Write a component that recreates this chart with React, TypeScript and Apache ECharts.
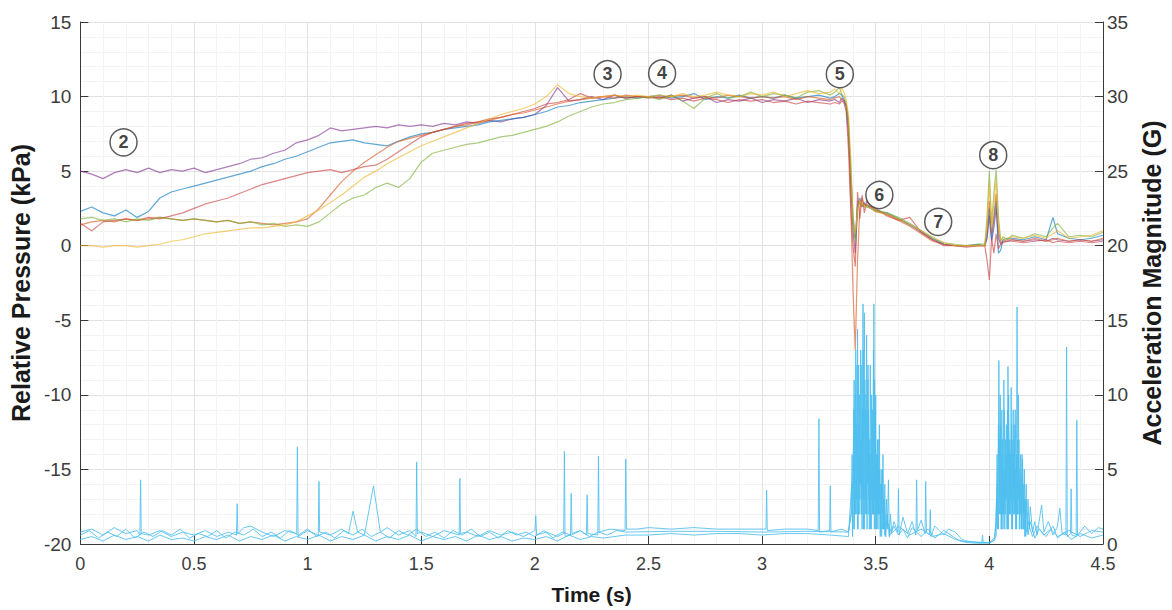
import React, { useEffect, useRef } from "react";
import * as echarts from "echarts";

// Time base shared by the pressure traces (s)
const TIME = [
  0, 0.05, 0.1, 0.15, 0.2, 0.25, 0.3, 0.35, 0.4, 0.45,
  0.5, 0.55, 0.6, 0.65, 0.7, 0.75, 0.8, 0.85, 0.9, 0.95,
  1.0, 1.05, 1.1, 1.15, 1.2, 1.25, 1.3, 1.35, 1.4, 1.45,
  1.5, 1.55, 1.6, 1.65, 1.7, 1.75, 1.8, 1.85, 1.9, 1.95,
  2.0, 2.05, 2.1, 2.15, 2.2, 2.25, 2.3, 2.35, 2.4, 2.45,
  2.5, 2.55, 2.6, 2.65, 2.7, 2.75, 2.8, 2.85, 2.9, 2.95,
  3.0, 3.05, 3.1, 3.15, 3.2, 3.25, 3.3,
  3.32, 3.34, 3.35, 3.36, 3.37, 3.38, 3.39, 3.4, 3.41, 3.42, 3.43, 3.44, 3.45, 3.46, 3.48,
  3.5, 3.55, 3.6, 3.65, 3.7, 3.75, 3.8, 3.85, 3.9, 3.95,
  3.98, 3.99, 4.0, 4.01, 4.02, 4.03, 4.04, 4.05, 4.06, 4.08,
  4.1, 4.15, 4.2, 4.25, 4.28, 4.3, 4.35, 4.4, 4.45, 4.5,
];

// Relative pressure traces (kPa)
const P_PURPLE = [
  5.0, 4.8, 4.5, 4.9, 5.1, 4.9, 5.2, 4.9, 5.1, 5.0,
  5.2, 4.9, 5.1, 5.3, 5.5, 5.8, 5.9, 6.2, 6.4, 6.9,
  7.1, 7.4, 7.9, 7.7, 7.8, 7.9, 8.0, 7.9, 8.1, 8.0,
  8.1, 8.0, 8.2, 8.1, 8.3, 8.2, 8.4, 8.3, 8.5, 8.6,
  8.8, 9.4, 10.6, 9.7, 9.8, 10.0, 9.8, 10.1, 9.9, 10.0,
  10.0, 9.9, 10.1, 9.7, 9.9, 10.0, 9.6, 9.8, 9.7, 9.9,
  9.6, 9.8, 9.7, 9.9, 9.6, 9.8, 9.7,
  9.8, 9.6, 9.9, 9.7, 9.3, 7.5, 4.0, 1.0, -0.5, 2.5, 3.0, 2.6, 2.8, 2.7, 2.6,
  2.4, 2.1, 1.8, 1.4, 0.9, 0.4, 0.1, 0.0, 0.0, 0.0,
  0.0, 0.5, 2.0, 0.3, 1.2, 2.5, 0.5, 0.1, 0.3, 0.3,
  0.4, 0.3, 0.4, 0.3, 0.5, 0.4, 0.3, 0.4, 0.3, 0.4,
];
const P_BLUE = [
  2.3, 2.6, 2.2, 2.0, 2.4, 1.9, 2.3, 3.2, 3.6, 3.8,
  4.0, 4.2, 4.4, 4.6, 4.8, 5.0, 5.3, 5.5, 5.8, 6.0,
  6.3, 6.6, 6.9, 7.0, 7.1, 6.9, 6.8, 6.7, 7.0, 7.3,
  7.5, 7.6, 7.8, 7.9, 8.0, 8.1, 8.3, 8.4, 8.5, 8.6,
  8.8, 9.0, 9.3, 9.4, 9.6, 9.7, 9.8, 9.9, 10.0, 9.9,
  10.0, 10.1, 9.9, 10.0, 10.2, 9.8, 10.0, 9.9, 10.1, 9.9,
  10.0, 9.9, 10.1, 9.9, 10.0, 10.1, 9.9,
  10.0, 10.2, 10.1, 9.8, 9.4, 8.0, 5.0, 2.0, 0.5, 2.8, 3.2, 2.7, 2.9, 2.6, 2.5,
  2.3, 2.2, 1.8, 1.4, 1.0, 0.5, 0.1, 0.0, 0.0, 0.1,
  0.0, 0.6, 2.5, 0.4, 1.8, 3.0, -0.5, -0.3, 0.4, 0.5,
  0.5, 0.4, 0.6, 0.4, 1.9, 0.8, 0.5, 0.4, 0.5, 0.7,
];
const P_RED = [
  1.5, 1.0, 1.6, 1.7, 1.8, 1.7, 1.9, 1.8, 2.0, 2.2,
  2.5, 2.8, 3.0, 3.2, 3.5, 3.8, 4.1, 4.3, 4.5, 4.7,
  4.9, 5.0, 5.1, 4.9, 5.1, 5.3, 5.4, 5.8, 6.3, 6.8,
  7.3, 7.6, 7.8, 8.0, 8.2, 8.3, 8.5, 8.6, 8.8, 9.0,
  9.2, 9.5, 9.6, 9.8, 10.2, 9.9, 10.0, 10.1, 9.9, 10.0,
  9.9, 10.0, 9.8, 9.9, 9.7, 9.9, 9.8, 9.6, 9.8, 9.7,
  9.8, 9.6, 9.7, 9.5, 9.7, 9.6, 9.5,
  9.6, 9.5, 9.7, 9.6, 9.0, 6.5, 2.5, 0.0, -1.4, 3.6, 1.8, 3.4, 2.2, 3.0, 2.6,
  2.5, 2.0, 1.7, 1.9, 0.9, 0.4, 0.0, 0.0, -0.1, 0.0,
  0.0, -1.0, -2.3, 0.5, -0.5, 0.8, -0.2, 0.1, 0.2, 0.3,
  0.3, 0.2, 0.3, 0.4, 0.2, 0.3, 0.2, 0.3, 0.2, 0.3,
];
const P_ORANGE = [
  1.4, 1.6, 1.7, 1.6, 1.8, 1.7, 1.8, 1.9, 1.8, 1.7,
  1.8, 1.7, 1.6, 1.7, 1.5, 1.6, 1.5, 1.4, 1.5, 1.6,
  1.8, 2.5, 3.4, 4.3, 5.0, 5.6, 6.1, 6.6, 7.0, 7.2,
  7.4, 7.6, 7.8, 8.0, 8.1, 8.3, 8.4, 8.6, 8.8, 8.9,
  9.1, 9.3, 9.5, 9.7, 9.8, 9.9, 10.0, 9.9, 10.1, 10.0,
  10.0, 9.9, 10.0, 10.1, 9.9, 10.0, 9.9, 10.1, 10.0, 9.9,
  10.0, 9.9, 10.0, 9.8, 10.0, 9.9, 9.8,
  9.9, 10.0, 9.8, 9.7, 9.5, 8.5, 3.0, -3.0, -7.0, -1.0, 2.5, 3.2, 2.6, 2.8, 2.5,
  2.3, 2.1, 1.7, 1.3, 0.8, 0.3, 0.1, 0.0, 0.0, 0.0,
  0.0, 1.0, 3.0, 0.8, 2.0, 3.5, 1.0, 0.2, 0.3, 0.4,
  0.4, 0.3, 0.5, 0.3, 0.4, 0.5, 0.3, 0.4, 0.3, 0.5,
];
const P_GREEN = [
  1.8, 1.9, 1.7, 1.8, 1.6, 1.8, 1.7, 1.9, 1.8, 1.7,
  1.8, 1.7, 1.6, 1.7, 1.5, 1.6, 1.4, 1.5, 1.3, 1.4,
  1.3, 1.6, 2.2, 2.8, 3.2, 3.4, 3.9, 4.2, 3.9, 4.5,
  5.6, 6.2, 6.4, 6.6, 6.8, 6.9, 7.1, 7.3, 7.4, 7.6,
  7.8, 8.0, 8.3, 8.7, 9.0, 9.3, 9.5, 9.6, 9.8, 9.9,
  10.0, 9.8, 10.1, 9.7, 9.2, 9.9, 10.2, 9.9, 10.0, 10.3,
  10.0, 10.2, 10.1, 9.9, 10.3, 10.4, 10.1,
  10.3, 10.6, 10.2, 10.0, 9.6, 8.2, 5.5, 1.5, 0.2, 2.6, 2.9, 2.7, 2.6, 2.7, 2.5,
  2.4, 2.2, 1.9, 1.5, 1.0, 0.5, 0.2, 0.1, 0.0, 0.1,
  0.1, 2.0, 5.0, 1.5, 3.5, 5.1, 2.0, 0.3, 0.6, 0.4,
  0.7, 0.5, 0.8, 0.6, 1.2, 1.5, 0.6, 0.7, 0.6, 0.9,
];
const P_YELLOW = [
  0.0, 0.0, -0.1, 0.0, 0.0, -0.1, 0.0, 0.1, 0.3, 0.4,
  0.6, 0.8, 0.9, 1.0, 1.1, 1.2, 1.2, 1.3, 1.4, 1.6,
  2.0, 2.4, 2.9, 3.4, 4.0, 4.6, 5.0, 5.5, 5.9, 6.3,
  6.7, 7.0, 7.3, 7.6, 7.9, 8.2, 8.5, 8.8, 9.0, 9.2,
  9.5, 10.0, 10.8, 10.2, 10.0, 9.9, 10.0, 10.1, 10.0, 10.1,
  10.0, 10.1, 10.0, 10.2, 10.0, 10.1, 10.3, 10.1, 10.0, 10.2,
  10.1, 10.3, 10.0, 10.2, 10.4, 10.2, 10.3,
  10.5, 10.2, 10.6, 10.3, 9.8, 8.8, 6.0, 2.0, 0.8, 2.4, 3.0, 2.8, 2.7, 2.6, 2.5,
  2.3, 2.1, 1.8, 1.4, 1.0, 0.6, 0.2, 0.0, 0.0, 0.0,
  0.0, 1.5, 4.2, 1.2, 2.8, 4.5, 1.5, 0.4, 0.5, 0.5,
  0.6, 0.5, 0.7, 0.5, 0.8, 1.0, 0.5, 0.6, 0.7, 1.0,
];

// Acceleration magnitude traces [time s, G]
const ACC_1: [number, number][] = [
  [0, 0.8], [0.05, 1.0], [0.1, 0.6], [0.15, 1.1], [0.2, 0.7], [0.25, 0.9], [0.262, 0.6], [0.265, 4.3], [0.268, 0.7],
  [0.3, 0.6], [0.35, 0.9], [0.4, 0.5], [0.45, 0.8], [0.5, 0.6], [0.55, 0.9], [0.6, 0.5], [0.65, 0.8],
  [0.687, 0.6], [0.69, 2.7], [0.693, 0.7], [0.72, 1.1], [0.75, 1.2], [0.8, 0.8], [0.85, 0.5], [0.9, 0.9],
  [0.952, 0.7], [0.955, 6.5], [0.958, 0.5], [1.0, 0.9], [1.047, 0.6], [1.05, 4.2], [1.053, 0.8], [1.1, 0.6],
  [1.15, 1.0], [1.18, 0.7], [1.2, 2.2], [1.22, 0.8], [1.25, 0.6], [1.29, 3.9], [1.32, 0.8], [1.35, 1.1],
  [1.4, 0.6], [1.45, 0.9], [1.477, 0.5], [1.48, 5.5], [1.483, 0.7], [1.5, 0.8], [1.55, 0.5], [1.6, 0.9],
  [1.667, 0.6], [1.67, 4.4], [1.673, 0.7], [1.7, 0.8], [1.75, 0.5], [1.8, 0.9], [1.85, 0.6], [1.9, 0.8],
  [1.95, 0.5], [2.0, 0.9], [2.004, 1.9], [2.008, 0.6], [2.05, 0.8], [2.1, 0.5], [2.127, 0.7], [2.13, 6.2],
  [2.133, 0.5], [2.157, 0.6], [2.16, 3.4], [2.163, 0.7], [2.2, 0.9], [2.227, 0.6], [2.23, 3.3], [2.233, 0.7],
  [2.277, 0.6], [2.28, 5.9], [2.283, 0.8], [2.33, 1.0], [2.397, 0.9], [2.4, 5.7], [2.403, 1.0], [2.45, 1.0],
  [2.5, 1.1], [2.6, 1.0], [2.7, 1.1], [2.8, 1.0], [2.9, 1.0], [3.0, 1.0], [3.017, 1.0], [3.02, 3.6], [3.023, 0.9],
  [3.1, 1.0], [3.2, 1.0], [3.247, 0.9], [3.25, 8.4], [3.253, 0.8], [3.297, 0.9], [3.3, 3.9], [3.303, 0.8],
  [3.35, 1.0], [3.38, 0.8],
  [3.392, 2], [3.396, 6], [3.4, 1], [3.404, 9], [3.408, 2], [3.412, 13], [3.416, 3], [3.42, 14.4], [3.424, 2],
  [3.428, 10], [3.432, 4], [3.436, 12], [3.44, 1], [3.444, 16.1], [3.448, 3], [3.452, 11], [3.456, 2], [3.46, 14],
  [3.464, 4], [3.468, 9], [3.472, 1], [3.476, 12], [3.48, 3], [3.484, 8], [3.488, 2], [3.492, 16.1], [3.496, 3],
  [3.5, 10], [3.504, 1], [3.508, 7], [3.512, 2], [3.516, 8], [3.52, 1], [3.524, 5], [3.528, 2], [3.532, 6],
  [3.536, 1], [3.54, 4], [3.544, 0.5], [3.548, 3], [3.552, 1], [3.556, 4.3], [3.56, 0.5], [3.565, 2], [3.57, 0.8],
  [3.58, 1.5], [3.597, 0.8], [3.6, 3.7], [3.603, 0.6], [3.62, 1.8], [3.64, 0.7], [3.66, 1.5], [3.677, 0.6],
  [3.68, 4.3], [3.683, 0.9], [3.7, 1.6], [3.717, 0.7], [3.72, 4.2], [3.723, 0.8], [3.737, 0.6], [3.74, 2.3],
  [3.743, 0.5], [3.76, 1.2], [3.78, 0.9], [3.8, 0.6], [3.82, 1.0], [3.85, 0.8], [3.88, 0.3], [3.9, 0.2],
  [3.95, 0.1], [3.967, 0.1], [3.97, 0.6], [3.973, 0.1], [4.0, 0.1], [4.02, 0.2],
  [4.03, 1.5], [4.034, 6], [4.038, 2], [4.042, 12.3], [4.046, 3], [4.05, 8], [4.054, 1], [4.058, 7], [4.062, 2],
  [4.066, 9], [4.07, 3], [4.074, 6], [4.078, 1], [4.082, 11.9], [4.086, 2], [4.09, 7], [4.094, 3], [4.098, 8],
  [4.102, 1], [4.106, 6], [4.11, 3], [4.114, 9], [4.118, 2], [4.122, 15.9], [4.126, 3], [4.13, 7], [4.134, 2],
  [4.138, 6], [4.142, 1], [4.146, 5.7], [4.15, 2], [4.154, 5], [4.158, 1], [4.162, 4], [4.166, 0.8], [4.17, 3],
  [4.175, 1], [4.18, 2.5], [4.19, 0.8], [4.2, 1.5], [4.21, 0.6],
  [4.23, 2.6], [4.24, 0.8], [4.26, 1.5], [4.28, 0.6], [4.3, 1.2], [4.31, 2.4], [4.32, 0.7], [4.337, 0.6],
  [4.34, 13.2], [4.343, 0.5], [4.357, 0.7], [4.36, 3.7], [4.363, 0.6], [4.382, 0.5], [4.385, 8.3], [4.388, 0.6],
  [4.42, 1.2], [4.45, 0.7], [4.48, 1.1], [4.5, 1.0],
];
const ACC_2: [number, number][] = [
  [0, 0.3], [0.05, 0.5], [0.1, 0.2], [0.15, 0.6], [0.2, 0.3], [0.25, 0.5], [0.3, 0.2], [0.35, 0.6], [0.4, 0.3],
  [0.45, 0.4], [0.5, 0.2], [0.55, 0.5], [0.6, 0.3], [0.65, 0.6], [0.7, 0.2], [0.75, 0.5], [0.8, 0.3], [0.85, 0.6],
  [0.9, 0.2], [0.95, 0.5], [1.0, 0.3], [1.05, 0.6], [1.1, 0.2], [1.15, 0.5], [1.2, 0.3], [1.25, 0.6], [1.3, 0.2],
  [1.35, 0.5], [1.4, 0.3], [1.45, 0.6], [1.5, 0.2], [1.55, 0.5], [1.6, 0.3], [1.65, 0.5], [1.7, 0.2], [1.75, 0.6],
  [1.8, 0.3], [1.85, 0.5], [1.9, 0.2], [1.95, 0.4], [2.0, 0.3], [2.05, 0.5], [2.1, 0.2], [2.15, 0.6], [2.2, 0.3],
  [2.25, 0.5], [2.3, 0.4], [2.4, 0.6], [2.5, 0.6], [2.6, 0.7], [2.7, 0.6], [2.8, 0.7], [2.9, 0.7], [3.0, 0.6],
  [3.1, 0.7], [3.2, 0.7], [3.3, 0.6], [3.38, 0.5],
  [3.394, 4], [3.398, 0.5], [3.402, 7], [3.406, 1], [3.41, 10], [3.414, 2], [3.418, 12], [3.422, 1], [3.426, 8],
  [3.43, 3], [3.434, 13], [3.438, 2], [3.442, 9], [3.446, 1], [3.45, 15.5], [3.454, 3], [3.458, 10], [3.462, 1],
  [3.466, 12], [3.47, 2], [3.474, 7], [3.478, 1], [3.482, 10], [3.486, 2], [3.49, 13], [3.494, 1], [3.498, 9],
  [3.502, 2], [3.506, 6], [3.51, 1], [3.514, 7], [3.518, 2], [3.522, 4], [3.526, 0.5], [3.53, 5], [3.534, 1],
  [3.538, 3], [3.542, 0.5], [3.55, 2], [3.56, 0.5], [3.58, 1.2], [3.6, 0.6], [3.62, 1.0], [3.64, 0.4], [3.66, 1.1],
  [3.7, 0.5], [3.73, 1.0], [3.76, 0.4], [3.8, 0.9], [3.84, 0.5], [3.87, 0.2], [3.9, 0.1], [3.95, 0.05], [4.0, 0.05],
  [4.025, 0.3],
  [4.032, 3], [4.036, 1], [4.04, 8], [4.044, 2], [4.048, 10], [4.052, 1], [4.056, 6], [4.06, 2], [4.064, 11],
  [4.068, 1], [4.072, 7], [4.076, 3], [4.08, 9], [4.084, 1], [4.088, 6], [4.092, 2], [4.096, 10.5], [4.1, 1],
  [4.104, 7], [4.108, 2], [4.112, 8], [4.116, 1], [4.12, 6], [4.124, 2], [4.128, 10], [4.132, 1], [4.136, 5],
  [4.14, 2], [4.144, 6], [4.148, 1], [4.152, 4], [4.156, 0.5], [4.16, 3], [4.17, 0.6], [4.18, 1.5], [4.2, 0.4],
  [4.22, 1.0], [4.25, 0.5], [4.28, 1.2], [4.3, 0.4], [4.33, 0.8], [4.36, 0.3], [4.4, 0.7], [4.45, 0.4], [4.5, 0.6],
];
const ACC_3: [number, number][] = [
  [0, 0.6], [0.04, 0.9], [0.08, 0.4], [0.12, 0.8], [0.16, 0.5], [0.2, 1.0], [0.24, 0.4], [0.28, 0.8], [0.32, 0.5],
  [0.36, 0.9], [0.4, 0.6], [0.44, 1.0], [0.48, 0.4], [0.52, 0.7], [0.56, 0.5], [0.6, 0.9], [0.64, 0.4], [0.68, 0.8],
  [0.72, 0.6], [0.76, 1.0], [0.8, 0.5], [0.84, 0.8], [0.88, 0.4], [0.92, 0.9], [0.96, 0.6], [1.0, 1.0], [1.04, 0.5],
  [1.08, 0.8], [1.12, 0.4], [1.16, 0.9], [1.2, 0.6], [1.24, 1.0], [1.28, 0.5], [1.32, 0.8], [1.36, 0.4], [1.4, 0.9],
  [1.44, 0.6], [1.48, 1.0], [1.52, 0.5], [1.56, 0.8], [1.6, 0.4], [1.64, 0.9], [1.68, 0.6], [1.72, 1.0], [1.76, 0.5],
  [1.8, 0.8], [1.84, 0.4], [1.88, 0.9], [1.92, 0.6], [1.96, 0.8], [2.0, 0.5], [2.04, 0.9], [2.08, 0.4], [2.12, 0.8],
  [2.16, 0.6], [2.2, 0.9], [2.24, 0.5], [2.28, 0.8], [2.32, 0.6], [2.36, 0.9], [2.4, 0.8], [2.6, 0.85], [2.8, 0.85],
  [3.0, 0.8], [3.2, 0.85], [3.38, 0.8],
  [3.4, 3], [3.405, 11], [3.41, 2], [3.415, 8], [3.42, 1], [3.425, 12], [3.43, 2], [3.435, 7], [3.44, 3], [3.445, 13],
  [3.45, 1], [3.455, 9], [3.46, 2], [3.465, 11], [3.47, 3], [3.475, 6], [3.48, 1], [3.485, 9], [3.49, 2], [3.495, 11],
  [3.5, 1], [3.505, 6], [3.51, 2], [3.515, 5], [3.52, 0.5], [3.525, 4], [3.53, 1], [3.535, 3], [3.54, 0.6],
  [3.55, 1.5], [3.57, 0.7], [3.6, 1.2], [3.65, 0.6], [3.7, 1.0], [3.75, 0.5], [3.8, 0.7], [3.85, 0.3], [3.9, 0.15],
  [4.0, 0.1], [4.03, 0.5],
  [4.035, 4], [4.04, 1], [4.045, 7], [4.05, 2], [4.055, 9], [4.06, 1], [4.065, 5], [4.07, 2], [4.075, 8], [4.08, 1],
  [4.085, 10], [4.09, 2], [4.095, 6], [4.1, 1], [4.105, 9], [4.11, 2], [4.115, 5], [4.12, 1], [4.125, 7], [4.13, 2],
  [4.135, 4], [4.14, 1], [4.145, 5], [4.15, 1], [4.155, 3], [4.16, 0.5], [4.17, 1.5], [4.19, 0.5], [4.21, 1.2],
  [4.24, 0.6], [4.27, 1.0], [4.3, 0.5], [4.35, 0.9], [4.4, 0.5], [4.45, 0.9], [4.5, 0.8],
];

// Event markers (circled numbers)
const EVENT_LABELS = ["2", "3", "4", "5", "6", "7", "8"];
const EVENT_T = [0.19, 2.32, 2.56, 3.342, 3.516, 3.775, 4.017];
const EVENT_P = [6.93, 11.5, 11.55, 11.5, 3.4, 1.6, 6.07];

const FONT = "'Liberation Sans', Arial, Helvetica, sans-serif";

export default function App() {
  const ref = useRef<HTMLDivElement>(null);
  useEffect(() => {
    document.body.style.margin = "0";
    const chart = echarts.init(ref.current!, null, { renderer: "svg" });
    const zip = (vals: number[]) => TIME.map((t, i) => [t, vals[i]]);
    const pLine = (name: string, vals: number[], color: string) => ({
      name,
      type: "line",
      yAxisIndex: 0,
      data: zip(vals),
      symbol: "none",
      lineStyle: { color, width: 1.2, opacity: 0.62 },
      z: 3,
    });
    const aLine = (name: string, data: [number, number][]) => ({
      name,
      type: "line",
      yAxisIndex: 1,
      data,
      symbol: "none",
      lineStyle: { color: "#4DBEEE", width: 1, opacity: 0.85 },
      z: 2,
    });
    chart.setOption({
      animation: false,
      backgroundColor: "#ffffff",
      textStyle: { fontFamily: FONT },
      grid: { left: 79, right: 68, top: 22, bottom: 64 },
      xAxis: {
        type: "value",
        min: 0,
        max: 4.5,
        interval: 0.5,
        name: "Time (s)",
        nameLocation: "middle",
        nameGap: 40,
        nameTextStyle: { fontSize: 21, fontWeight: "bold", color: "#1a1a1a", fontFamily: FONT },
        axisLine: { show: true, onZero: false, lineStyle: { color: "#3a3a3a", width: 1 } },
        axisTick: { show: true, inside: true, length: 8, lineStyle: { color: "#3a3a3a" } },
        axisLabel: { fontSize: 18, color: "#3c3c3c", margin: 11, fontFamily: FONT },
        splitLine: { show: true, lineStyle: { color: "#e2e2e2", width: 1 } },
        minorTick: { show: false, splitNumber: 5 },
        minorSplitLine: { show: true, lineStyle: { color: "#f3f3f3", width: 1 } },
      },
      yAxis: [
        {
          type: "value",
          min: -20,
          max: 15,
          interval: 5,
          position: "left",
          name: "Relative Pressure (kPa)",
          nameLocation: "middle",
          nameGap: 44,
          nameTextStyle: { fontSize: 25, fontWeight: "bold", color: "#1a1a1a", fontFamily: FONT },
          axisLine: { show: true, onZero: false, lineStyle: { color: "#3a3a3a", width: 1 } },
          axisTick: { show: true, inside: true, length: 8, lineStyle: { color: "#3a3a3a" } },
          axisLabel: { fontSize: 19, color: "#3c3c3c", margin: 9, fontFamily: FONT },
          splitLine: { show: true, lineStyle: { color: "#e2e2e2", width: 1 } },
          minorTick: { show: false, splitNumber: 5 },
          minorSplitLine: { show: true, lineStyle: { color: "#f3f3f3", width: 1 } },
        },
        {
          type: "value",
          min: 0,
          max: 35,
          interval: 5,
          position: "right",
          name: "Acceleration Magnitude (G)",
          nameLocation: "middle",
          nameGap: 34,
          nameTextStyle: { fontSize: 25, fontWeight: "bold", color: "#1a1a1a", fontFamily: FONT },
          axisLine: { show: true, onZero: false, lineStyle: { color: "#3a3a3a", width: 1 } },
          axisTick: { show: true, inside: true, length: 8, lineStyle: { color: "#3a3a3a" } },
          axisLabel: { fontSize: 19, color: "#3c3c3c", margin: 4, fontFamily: FONT },
          splitLine: { show: false },
        },
      ],
      series: [
        aLine("Acceleration A", ACC_1),
        aLine("Acceleration B", ACC_2),
        aLine("Acceleration C", ACC_3),
        pLine("Trial purple", P_PURPLE, "#7E2F8E"),
        pLine("Trial blue", P_BLUE, "#0072BD"),
        pLine("Trial red", P_RED, "#C83A3A"),
        pLine("Trial orange", P_ORANGE, "#D95319"),
        pLine("Trial green", P_GREEN, "#77AC30"),
        pLine("Trial yellow", P_YELLOW, "#EDB120"),
        {
          name: "Events",
          type: "scatter",
          yAxisIndex: 0,
          data: EVENT_T.map((t, i) => ({ name: EVENT_LABELS[i], value: [t, EVENT_P[i]] })),
          symbol: "circle",
          symbolSize: 27,
          itemStyle: { color: "#ffffff", borderColor: "#333333", borderWidth: 1.5 },
          label: {
            show: true,
            position: "inside",
            formatter: "{b}",
            fontSize: 18,
            fontWeight: "bold",
            color: "#111111",
            fontFamily: FONT,
          },
          z: 10,
        },
      ],
    });
    return () => chart.dispose();
  }, []);
  return <div ref={ref} style={{ width: 1172, height: 610 }} />;
}
